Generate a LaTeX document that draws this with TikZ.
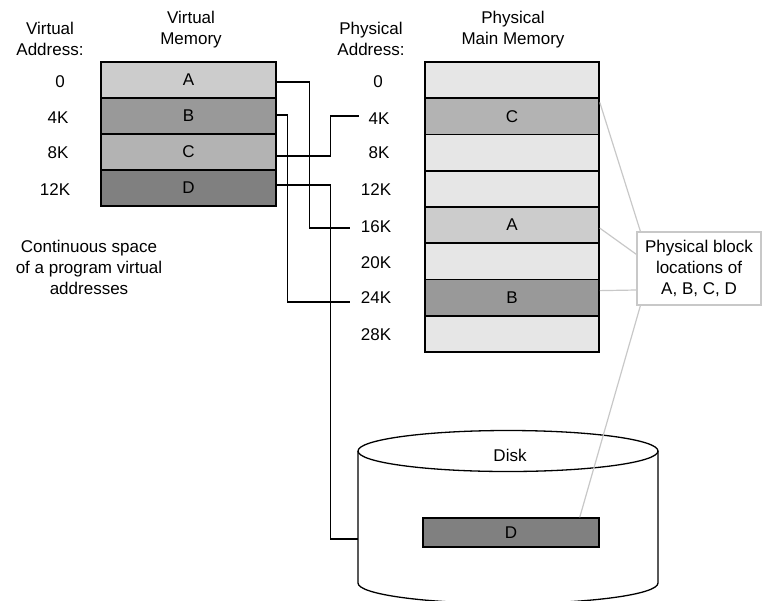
\documentclass[tikz,border=0pt]{standalone}
\usepackage{fontspec}
\setmainfont{Liberation Sans}
\definecolor{cA}{HTML}{CCCCCC}
\definecolor{cB}{HTML}{999999}
\definecolor{cC}{HTML}{B3B3B3}
\definecolor{cD}{HTML}{808080}
\definecolor{cFree}{HTML}{E6E6E6}
\definecolor{callgray}{HTML}{C8C8C8}
\begin{document}
\begin{tikzpicture}[x=1pt,y=-1pt,
  every node/.style={font=\fontsize{17}{21}\selectfont},
  vrow/.style={draw=black,line width=1.6pt,minimum width=175pt,minimum height=36pt,inner sep=0pt},
  prow/.style={draw=black,line width=1.6pt,minimum width=174pt,minimum height=36.25pt,inner sep=0pt},
  addr/.style={inner sep=0pt},
  head/.style={align=center,inner sep=0pt},
  conn/.style={draw=black,line width=1.2pt},
  callline/.style={draw=callgray,line width=1.2pt}]
\useasboundingbox (0,0) rectangle (762,600);

% headers
\node[head] (hva) at (50,39) {Virtual\\Address:};
\node[head] (hvm) at (191,29.5) {Virtual\\Memory};
\node[head] (hpa) at (371,39) {Physical\\Address:};
\node[head] (hpm) at (513,29.5) {Physical\\Main Memory};

% virtual memory
\node[vrow,fill=cA] (va) at (188.5,80) {A};
\node[vrow,fill=cB] (vb) at (188.5,116) {B};
\node[vrow,fill=cC] (vc) at (188.5,152) {C};
\node[vrow,fill=cD] (vd) at (188.5,188) {D};

% virtual addresses
\node[addr] (v0) at (60,82) {0};
\node[addr] (v4) at (58,118) {4K};
\node[addr] (v8) at (58,153) {8K};
\node[addr] (v12) at (55,190) {12K};

\node[head] (cont) at (89,267) {Continuous space\\of a program virtual\\addresses};

% physical main memory
\node[prow,fill=cFree] (pm0) at (512,80.125) {};
\node[prow,fill=cC] (pm1) at (512,116.375) {C};
\node[prow,fill=cFree] (pm2) at (512,152.625) {};
\node[prow,fill=cFree] (pm3) at (512,188.875) {};
\node[prow,fill=cA] (pm4) at (512,225.125) {A};
\node[prow,fill=cFree] (pm5) at (512,261.375) {};
\node[prow,fill=cB] (pm6) at (512,297.625) {B};
\node[prow,fill=cFree] (pm7) at (512,333.875) {};

% physical addresses
\node[addr] (p0) at (378,82) {0};
\node[addr] (p4) at (379,119) {4K};
\node[addr] (p8) at (379,153) {8K};
\node[addr] (p12) at (376,190) {12K};
\node[addr] (p16) at (376,227) {16K};
\node[addr] (p20) at (376,263) {20K};
\node[addr] (p24) at (376,298) {24K};
\node[addr] (p28) at (376,335) {28K};

% disk
\draw[line width=1.3pt,fill=white] (358,451) -- (358,583)
  arc[start angle=180,end angle=360,x radius=150pt,y radius=20.5pt] -- (658,451);
\draw[line width=1.3pt,fill=white] (508,451) ellipse [x radius=150pt,y radius=20.5pt];
\node (disk) at (510,455) {Disk};
\node[draw=black,line width=1.5pt,fill=cD,minimum width=176pt,minimum height=29pt,inner sep=0pt] (dbox) at (511,532.5) {D};
\coordinate (diskin) at (358,539);

% mappings from virtual to physical
\draw[conn] ([yshift=-2pt]va.east) -- ++(33,0) |- ([xshift=-11pt,yshift=-1pt]p16.west);
\draw[conn] ([yshift=1pt]vb.east) -- ++(11,0) |- ([xshift=-11pt,yshift=-4pt]p24.west);
\draw[conn] ([yshift=-4pt]vc.east) -- ++(54,0) |- ([xshift=-9pt,yshift=3pt]p4.west);
\draw[conn] ([yshift=3pt]vd.east) -- ++(54,0) |- (diskin);

% callout
\node[draw=callgray,line width=1.2pt,fill=white,align=center,minimum width=124pt,minimum height=73pt,inner sep=0pt] (callout) at (699,268.5) {Physical block\\locations of\\A, B, C, D};
\draw[callline] ([yshift=-5pt]pm1.north east) -- ([xshift=4pt]callout.north west);
\draw[callline] ([yshift=-3pt]pm4.east) -- ([yshift=-23pt]callout.north west);
\draw[callline] ([yshift=7pt]pm6.east) -- ([yshift=-21.5pt]callout.west);
\draw[callline] ([xshift=4pt]callout.south west) -- ([xshift=-20pt]dbox.north east);
\end{tikzpicture}
\end{document}
